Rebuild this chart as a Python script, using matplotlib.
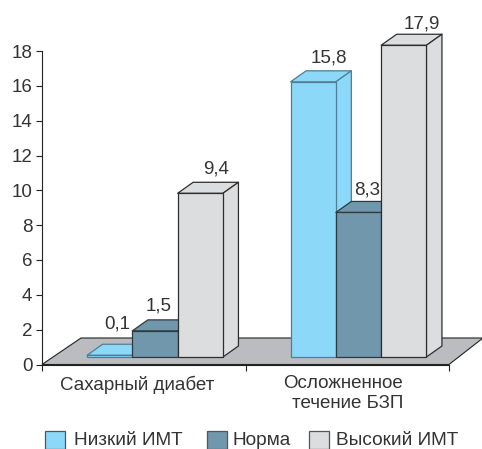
import matplotlib
matplotlib.use("Agg")
import matplotlib.pyplot as plt
from matplotlib.patches import Polygon, Rectangle

plt.rcParams['font.family'] = ['Liberation Sans', 'DejaVu Sans']

categories = ['Сахарный диабет', 'Осложненное\nтечение БЗП']
series_names = ['Низкий ИМТ', 'Норма', 'Высокий ИМТ']
low_bmi = [0.1, 15.8]
normal_bmi = [1.5, 8.3]
high_bmi = [9.4, 17.9]
value_labels = [['0,1', '15,8'], ['1,5', '8,3'], ['9,4', '17,9']]
y_ticks = list(range(0, 19, 2))

colors = ['#8CD8F8', '#7097AB', '#DCDDDF']
edges = ['#4F7F95', '#2E3A42', '#2E2E2E']
floor_color = '#BBBCBF'
text_color = '#333333'

W, H, DPI = 482, 449, 100
fig = plt.figure(figsize=(W / DPI, H / DPI), dpi=DPI)
L, R, B, T = 42, 449, 364.5, 51
ax = fig.add_axes([L / W, (H - B) / H, (R - L) / W, (B - T) / H])
ax.set_xlim(0, 2)
ax.set_ylim(0, 18)
PX = 2 / (R - L)          # x data units per pixel
PY = 18 / (B - T)         # y data units per pixel
px = lambda p: p * PX
py = lambda p: p * PY

# 3-D look: depth of bars, wall offset of the floor
dx_bar, dy_bar = px(15.5), py(11)
dx_floor, dy_floor = px(34), py(26.5)
base = py(7.5)
width = px(45.3)
centers = [px(155 - L), px(358.5 - L)]

ax.add_patch(Polygon([(0, 0), (2, 0), (2 + dx_floor, dy_floor), (dx_floor + px(5), dy_floor)],
                     closed=True, fc=floor_color, ec='#222222', lw=0.8, clip_on=False, zorder=1))

series = [low_bmi, normal_bmi, high_bmi]
label_off = [[(0, 20), (8, 13)], [(-4, 14), (1, 11)], [(8, 13), (10, 10)]]
z = 2
for g, c in enumerate(centers):
    for s, vals in enumerate(series):
        x0 = c + (s - 1.5) * width
        x1 = x0 + width
        y1 = base + vals[g]
        kw = dict(closed=True, fc=colors[s], ec=edges[s], lw=0.9, clip_on=False, zorder=z, joinstyle='round')
        ax.add_patch(Polygon([(x0, y1), (x0 + dx_bar, y1 + dy_bar), (x1 + dx_bar, y1 + dy_bar), (x1, y1)], **kw))
        ax.add_patch(Polygon([(x1, base), (x1 + dx_bar, base + dy_bar), (x1 + dx_bar, y1 + dy_bar), (x1, y1)], **kw))
        ax.add_patch(Rectangle((x0, base), width, vals[g], fc=colors[s], ec=edges[s], lw=0.9, clip_on=False, zorder=z))
        z += 1
        ox, oy = label_off[s][g]
        ax.annotate(value_labels[s][g], (x0 + width / 2 + dx_bar / 2, y1 + dy_bar),
                    xytext=(ox * .72, oy * .72), textcoords='offset points', annotation_clip=False,
                    ha='center', va='center', fontsize=13.5, color=text_color, zorder=50)

for sp in ('top', 'right'):
    ax.spines[sp].set_visible(False)
for sp in ('left', 'bottom'):
    ax.spines[sp].set_color('#222222')
    ax.spines[sp].set_linewidth(0.8)
    ax.spines[sp].set_zorder(20)
ax.patch.set_alpha(0)
ax.set_yticks(y_ticks)
ax.set_xticks([0, 1, 2])
ax.set_xticklabels([])
ax.tick_params(axis='both', length=4, width=0.8, color='#222222')
ax.tick_params(axis='y', labelsize=13.5, labelcolor=text_color, pad=3)

label_x = [137, 343]
for name, x in zip(categories, label_x):
    fig.text(x / W, 1 - 375.5 / H, name, ha='center', va='top', fontsize=13.5,
             color=text_color, linespacing=1.2, multialignment='right')

# Legend
swatch_x = [45, 207, 309]
text_x = [74, 233, 336]
for name, col, sx, tx in zip(series_names, colors, swatch_x, text_x):
    fig.add_artist(Rectangle((sx / W, 1 - 449 / H), 20 / W, 18 / H, transform=fig.transFigure,
                             fc=col, ec='#555555', lw=0.9))
    fig.text(tx / W, 1 - 445 / H, name, ha='left', va='baseline', fontsize=13.7, color=text_color)

fig.savefig('out.png', dpi=DPI)
